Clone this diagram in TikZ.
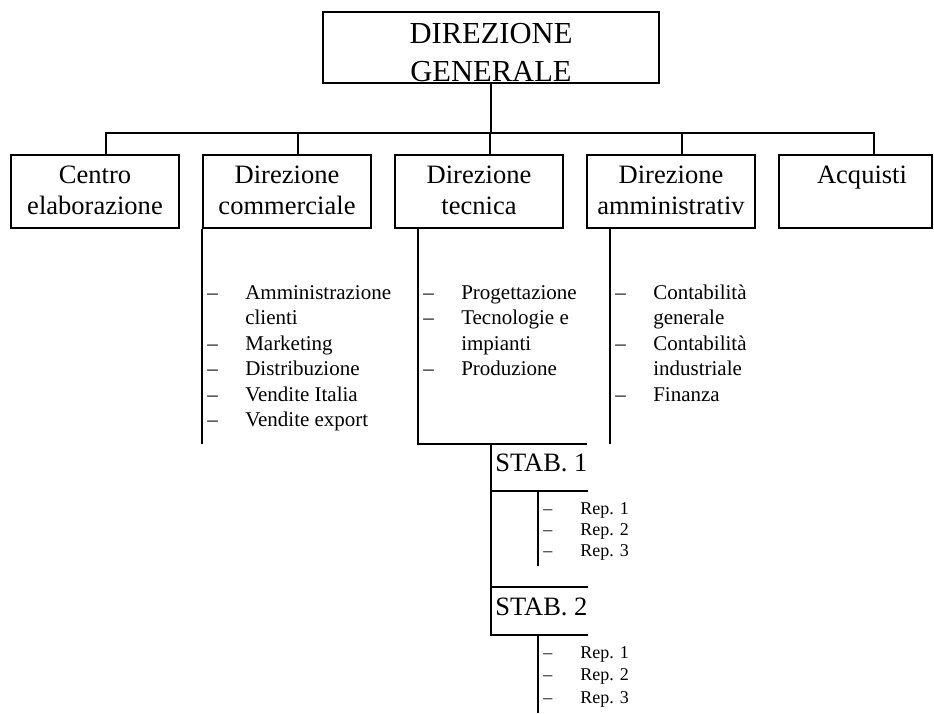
\documentclass[tikz,border=0pt]{standalone}
\usepackage{fontspec}
\setmainfont{Liberation Serif}
\usetikzlibrary{calc}
\begin{document}
\begin{tikzpicture}[x=0.75pt,y=-0.75pt,
  wire/.style={line width=1.2pt},
  unit/.style={draw, line width=1.2pt, minimum width=126pt, minimum height=54.75pt, inner sep=0pt},
  unittext/.style={anchor=base, inner sep=0pt, font=\fontsize{19.9pt}{23pt}\selectfont},
  toptext/.style={anchor=base, inner sep=0pt, font=\fontsize{22.9pt}{28.3pt}\selectfont},
  stabtext/.style={anchor=base west, inner sep=0pt, font=\fontsize{19.9pt}{23pt}\selectfont},
  listtext/.style={anchor=base west, inner sep=0pt, font=\fontsize{15.75pt}{19.1pt}\selectfont},
  reptext/.style={anchor=base west, inner sep=0pt, font=\fontsize{13.5pt}{16.1pt}\selectfont}]
\useasboundingbox[fill=white] (0,0) rectangle (934,713);

% top of the chart
\node[unit, minimum width=252pt, minimum height=53.25pt] (dg) at (491,47.5) {};
\node[toptext] (dgt) at (491,43.3) {\begin{tabular}[t]{@{}c@{}}DIREZIONE\\GENERALE\end{tabular}};

% first level units
\node[unit] (ce) at (95,191.5) {};
\node[unit] (dc) at (287,191.5) {};
\node[unit] (dt) at (479,191.5) {};
\node[unit] (da) at (671,191.5) {};
\node[unit, minimum width=114.75pt] (aq) at (855.5,191.5) {};

\node[unittext] (cet) at (95,183.5) {\begin{tabular}[t]{@{}c@{}}Centro\\elaborazione\end{tabular}};
\node[unittext] (dct) at (287,183.5) {\begin{tabular}[t]{@{}c@{}}Direzione\\commerciale\end{tabular}};
\node[unittext] (dtt) at (479,183.5) {\begin{tabular}[t]{@{}c@{}}Direzione\\tecnica\end{tabular}};
\node[unittext] (dat) at (671,183.5) {\begin{tabular}[t]{@{}c@{}}Direzione\\amministrativ\end{tabular}};
\node[unittext] (aqt) at (862,183.5) {Acquisti};

% bus from the top box to the units
\coordinate (busL) at (107,133);
\coordinate (busR) at (875,133);
\draw[wire] (dg.south) -- (dg.south |- busL);
\draw[wire] (busL) -- (busR);
\foreach \b in {ce,dc,dt,da,aq}
  \draw[wire] ($(\b.north west)+(96,0)$) -- ++(0,-22);

% staff lists below the units
\draw[wire] (dc.south west) -- ++(0,215);
\draw[wire] ($(dt.south west)+(24,0)$) -- ++(0,215) coordinate (tk) -- ++(169,0);
\draw[wire] ($(da.south west)+(24,0)$) -- ++(0,215);

\node[listtext] (lc) at (207,299.5) {\begin{tabular}[t]{@{}p{28.5pt}@{}l@{}}
 -- & Amministrazione\\ & clienti\\ -- & Marketing\\ -- & Distribuzione\\ -- & Vendite Italia\\ -- & Vendite export\end{tabular}};
\node[listtext] (lt) at (423,299.5) {\begin{tabular}[t]{@{}p{28.5pt}@{}l@{}}
 -- & Progettazione\\ -- & Tecnologie e\\ & impianti\\ -- & Produzione\end{tabular}};
\node[listtext] (la) at (615,299.5) {\begin{tabular}[t]{@{}p{28.5pt}@{}l@{}}
 -- & Contabilità\\ & generale\\ -- & Contabilità\\ & industriale\\ -- & Finanza\end{tabular}};

% plants under the technical direction
\coordinate (s0) at (491,443);
\coordinate (s1) at (491,491);
\coordinate (s2) at (491,587);
\coordinate (s3) at (491,635);
\draw[wire] (s0) -- (s3) -- ++(97,0);
\draw[wire] (s1) -- ++(97,0);
\draw[wire] (s2) -- ++(97,0);
\node[stabtext] (st1) at (495,471) {STAB. 1};
\node[stabtext] (st2) at (495,615) {STAB. 2};

% departments of each plant
\draw[wire] ($(s1)+(47,0)$) -- ++(0,75);
\draw[wire] ($(s3)+(47,0)$) -- ++(0,78);
\node[reptext] (r1) at (543,514) {\begin{tabular}[t]{@{}p{27.75pt}@{}l@{}}
 -- & Rep. 1\\ -- & Rep. 2\\ -- & Rep. 3\end{tabular}};
\node[reptext, font=\fontsize{13.5pt}{16.9pt}\selectfont] (r2) at (543,658) {\begin{tabular}[t]{@{}p{27.75pt}@{}l@{}}
 -- & Rep. 1\\ -- & Rep. 2\\ -- & Rep. 3\end{tabular}};
\end{tikzpicture}
\end{document}
